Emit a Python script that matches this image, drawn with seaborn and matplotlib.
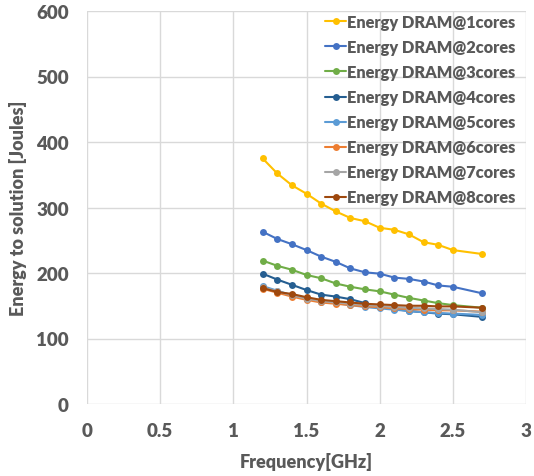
import matplotlib
matplotlib.use("Agg")
import matplotlib.pyplot as plt
import seaborn as sns
import pandas as pd

# Frequency sweep (GHz) and DRAM energy to solution (J) per core count
freq = [1.2, 1.3, 1.4, 1.5, 1.6, 1.7, 1.8, 1.9, 2.0, 2.1, 2.2, 2.3, 2.4, 2.5, 2.7]
e1 = [375, 352, 334, 321, 306, 294, 284, 279, 269, 266, 259, 247, 243, 235, 229]
e2 = [263, 252, 244, 235, 225, 217, 207, 201, 199, 193, 191, 187, 181, 179, 169]
e3 = [219, 211, 205, 197, 192, 184, 179, 175, 172, 167, 162, 158, 154, 151, 147]
e4 = [199, 190, 182, 174, 167, 164, 160, 154, 148, 145, 142, 140, 138, 137, 133]
e5 = [180, 173, 166, 161, 156, 154, 151, 148, 146, 144, 142, 140, 139, 138, 136]
e6 = [176, 170, 164, 159, 155, 153, 151, 149, 148, 146, 145, 144, 143, 143, 141]
e7 = [178, 172, 166, 161, 157, 155, 153, 151, 150, 148, 147, 146, 145, 144, 140]
e8 = [177, 171, 168, 163, 159, 157, 155, 153, 152, 151, 150, 150, 149, 149, 147]

series_names = [f"Energy DRAM@{n}cores" for n in range(1, 9)]
series_values = [e1, e2, e3, e4, e5, e6, e7, e8]
colors = ["#FFC000", "#4472C4", "#70AD47", "#255E91",
          "#5B9BD5", "#ED7D31", "#A5A5A5", "#9E480E"]

rows = []
for name, vals in zip(series_names, series_values):
    for f, v in zip(freq, vals):
        rows.append({"freq": f, "energy": v, "series": name})
df = pd.DataFrame(rows)

sns.set_theme(style="white")
plt.rcParams["font.family"] = ["Lato", "DejaVu Sans"]
text_color = "#595959"

fig = plt.figure(figsize=(5.34, 4.77), dpi=100)
ax = fig.add_axes([87 / 534, 72 / 477, 439 / 534, 393 / 477])

sns.lineplot(data=df, x="freq", y="energy", hue="series",
             hue_order=series_names, palette=colors,
             marker="o", markersize=5, markeredgewidth=0,
             linewidth=1.5, ax=ax, legend=True)

ax.set_xlim(0, 3)
ax.set_ylim(0, 600)
ax.set_xticks([0, 0.5, 1, 1.5, 2, 2.5, 3])
ax.set_xticklabels(["0", "0.5", "1", "1.5", "2", "2.5", "3"])
ax.set_yticks(range(0, 601, 100))
ax.grid(True, color="#D9D9D9", linewidth=1)
ax.set_axisbelow(True)
for s in ax.spines.values():
    s.set_visible(False)

ax.tick_params(axis="both", length=0, pad=13, labelsize=13.5,
               labelcolor=text_color)
for lbl in ax.get_xticklabels() + ax.get_yticklabels():
    lbl.set_fontweight("heavy")

ax.set_xlabel("Frequency[GHz]", fontsize=13, fontweight="heavy",
              color=text_color, labelpad=9)
ax.set_ylabel("Energy to solution [Joules]", fontsize=13,
              fontweight="heavy", color=text_color, labelpad=7)

handles, labels = ax.get_legend_handles_labels()
leg = ax.legend(handles, labels, loc="upper right",
                bbox_to_anchor=(524 / 534, 470 / 477),
                bbox_transform=fig.transFigure,
                frameon=False, fontsize=11.8, handlelength=1.25,
                handletextpad=0.1, labelspacing=0.55, borderpad=0)
for t in leg.get_texts():
    t.set_color(text_color)
    t.set_fontweight("heavy")

fig.savefig("out.png", dpi=100)
